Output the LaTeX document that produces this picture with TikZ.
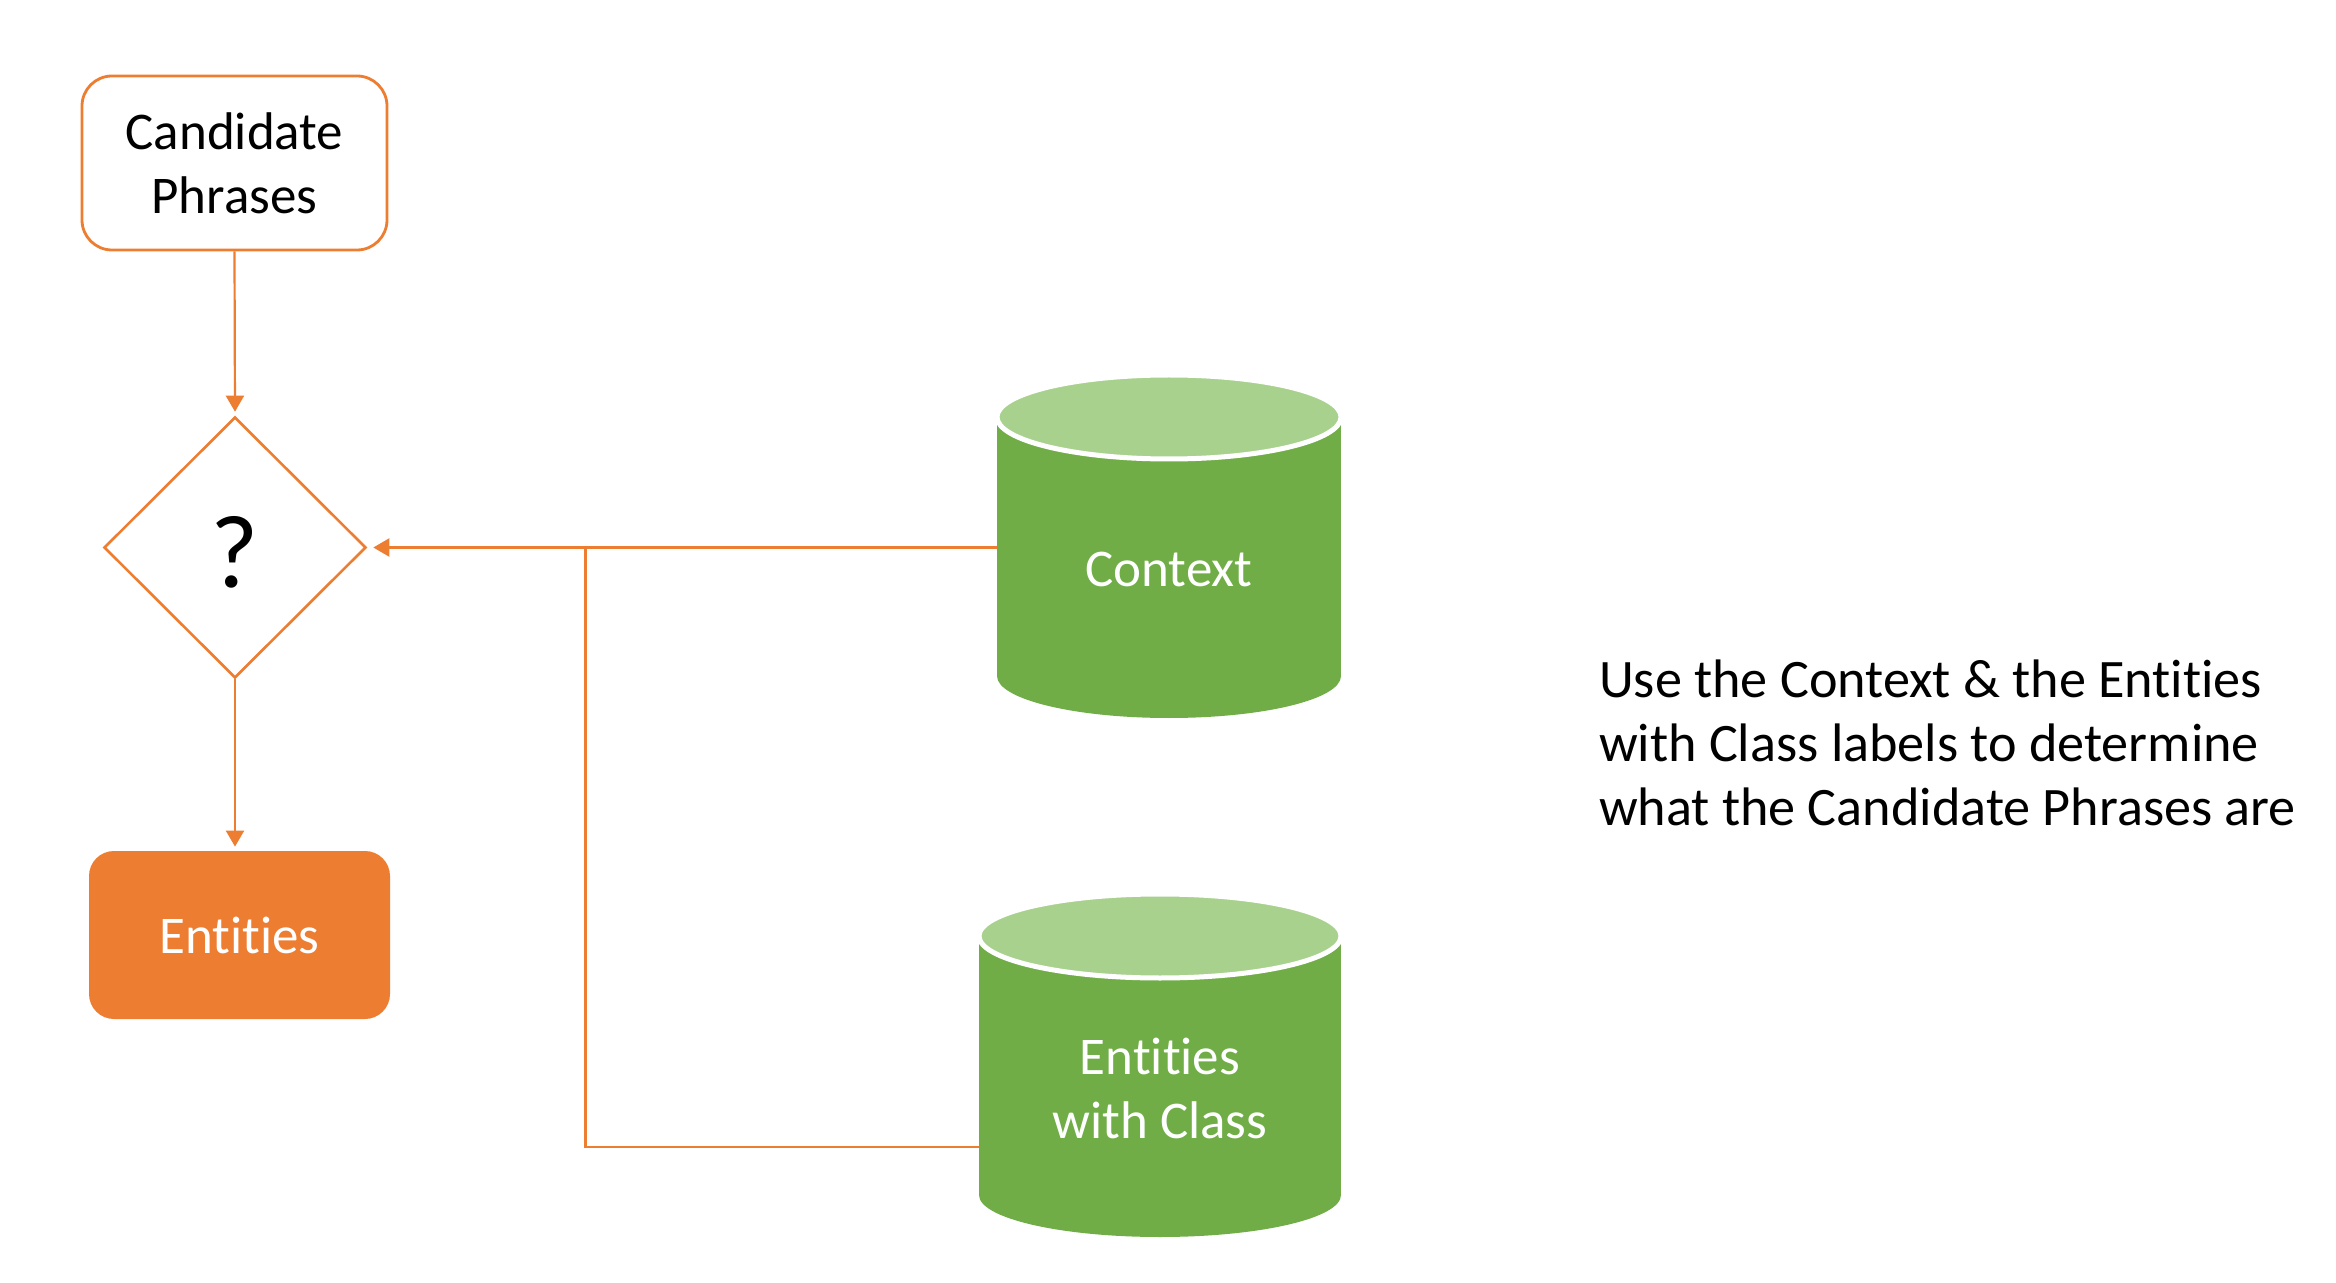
\documentclass[tikz,border=0pt]{standalone}
\usepackage{fontspec}
\setmainfont{Carlito}[Ligatures={NoCommon,NoContextual}]
\usetikzlibrary{shapes.geometric,arrows.meta}
\definecolor{orng}{HTML}{ED7D31}
\definecolor{grn}{HTML}{70AD47}
\definecolor{lgrn}{HTML}{A9D18E}
\begin{document}
\begin{tikzpicture}[x=0.5pt,y=-0.5pt,
  txt/.style={font=\fontsize{26.5}{32}\selectfont},
  notetxt/.style={font=\fontsize{27.1}{32}\selectfont},
  outlinebox/.style={draw=orng, line width=1.4pt, rounded corners=15pt, fill=white,
    minimum width=152.5pt, minimum height=87pt, align=center, txt},
  filledbox/.style={fill=orng, rounded corners=12.5pt, minimum width=150.5pt,
    minimum height=84pt, text=white, txt},
  decision/.style={diamond, draw=orng, line width=1.3pt, inner sep=0pt,
    minimum width=131pt, minimum height=130.5pt},
  conn/.style={draw=orng, line width=1.1pt},
  tip/.style={-{Triangle[length=8pt,width=9pt]}},
  holder/.style={inner sep=0pt, outer sep=0pt},
  cyltext/.style={txt, text=white, align=center},
  cylbody/.style={fill=grn},
  cyltop/.style={fill=lgrn, draw=white, line width=2.5pt}
]
\useasboundingbox[fill=white] (0,0) rectangle (2336,1283);

% Candidate phrases
\node[outlinebox] (cand) at (234.5,163) {Candidate\\Phrases};
% Decision
\node[decision] (q) at (235,547.5) {};
\node[font=\fontsize{52}{60}\selectfont] (qm) at (235,552) {?};
% Entities
\node[filledbox] (ent) at (239.5,935) {Entities};

% Context cylinder
\fill[cylbody] (997,417) rectangle (1341,676);
\fill[cylbody] (1169,676) ellipse [x radius=86pt, y radius=21pt];
\path[cyltop] (1169,417) ellipse [x radius=86pt, y radius=21pt];
\node[holder, minimum width=172pt, minimum height=171.5pt] (ctx) at (1169,546.5) {};
\node[cyltext] (ctxt) at (1169,569) {Context};

% Entities with Class cylinder
\fill[cylbody] (979,936) rectangle (1341,1195);
\fill[cylbody] (1160,1195) ellipse [x radius=90.5pt, y radius=21pt];
\path[cyltop] (1160,936) ellipse [x radius=90.5pt, y radius=21pt];
\node[holder, minimum width=181pt, minimum height=171.5pt] (ewc) at (1160,1065.5) {};
\node[cyltext] (ewct) at (1160,1088) {Entities\\with Class};

% Note
\node[notetxt, anchor=west, align=left] (note) at (1592,743)
  {Use the Context \& the Entities\\with Class labels to determine\\what the Candidate Phrases are};

% Connectors
\draw[conn, tip, shorten >=2pt] (cand.south) -- (q.north);
\draw[conn, tip, shorten >=2pt] (q.south) -- (q.south |- ent.north);
\draw[conn, tip, shorten >=3pt] (q.east -| ctx.west) -- (q.east);
\coordinate (jn) at (585.5,547.5);
\coordinate (bend) at (585.5,1147);
\draw[conn] (jn) -- (bend) -- (bend -| ewc.west);
\end{tikzpicture}
\end{document}
